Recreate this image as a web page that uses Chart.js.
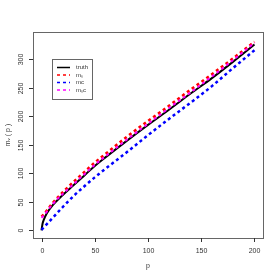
<!DOCTYPE html>
<html>
<head>
<meta charset="utf-8">
<script src="https://cdn.jsdelivr.net/npm/chart.js@4"></script>
<style>
  html, body { margin: 0; padding: 0; background: #fff; }
  #wrap { width: 280px; height: 280px; }
</style>
</head>
<body>
<div id="wrap"><canvas id="myChart" width="280" height="280"></canvas></div>
<script>
// values
const p = [0, 1, 2, 5, 10, 20, 30, 40, 50, 60, 80, 100, 120, 140, 160, 180, 200]
const truth = [0, 12, 18, 30, 43, 62, 79, 96, 113, 128, 157, 185, 212, 240, 267, 296, 326]
const mS = [24, 26, 28, 35, 47, 67, 85, 102, 119, 134, 164, 192, 219, 247, 274, 302, 331]
const mC = [1, 3, 5, 11, 21, 41, 60, 77, 93, 108, 137, 167, 196, 224, 253, 285, 316]
const mSC = [22, 24, 26, 33, 45, 64, 81, 98, 115, 130, 159, 187, 215, 242, 270, 299, 329]
const xTicks = [0, 50, 100, 150, 200]
const yTicks = [0, 50, 100, 150, 200, 250, 300]
const labels = ['truth', 'm\u209B', 'm\u1D04', 'm\u209B\u1D04']

const FONT = '"Liberation Sans", Arial, sans-serif'
const pts = arr => arr.map((v, i) => ({ x: p[i], y: v }))

const rPlot = {
    id: 'rPlot',
    afterDraw(chart) {
        const ctx = chart.ctx
        const a = chart.chartArea
        const xs = chart.scales.x
        const ys = chart.scales.y
        ctx.save()
        // box
        ctx.strokeStyle = '#666'
        ctx.lineWidth = 1
        ctx.strokeRect(a.left + 0.5, a.top + 0.5, a.right - a.left, a.bottom - a.top)
        ctx.fillStyle = '#333'
        ctx.strokeStyle = '#333'
        ctx.font = '7px ' + FONT
        // x axis
        ctx.textAlign = 'center'
        ctx.textBaseline = 'middle'
        xTicks.forEach(t => {
            const x = Math.round(xs.getPixelForValue(t)) + 0.5
            ctx.beginPath()
            ctx.moveTo(x, a.bottom)
            ctx.lineTo(x, a.bottom + 4)
            ctx.stroke()
            ctx.fillText(String(t), x, a.bottom + 13)
        })
        // y axis
        yTicks.forEach(t => {
            const y = Math.round(ys.getPixelForValue(t)) + 0.5
            ctx.beginPath()
            ctx.moveTo(a.left, y)
            ctx.lineTo(a.left - 4, y)
            ctx.stroke()
            ctx.save()
            ctx.translate(a.left - 12, y)
            ctx.rotate(-Math.PI / 2)
            ctx.fillText(String(t), 0, 0)
            ctx.restore()
        })
        // titles
        ctx.fillText('p', (a.left + a.right) / 2, a.bottom + 28)
        ctx.save()
        ctx.translate(8, (a.top + a.bottom) / 2)
        ctx.rotate(-Math.PI / 2)
        ctx.fillText('m\u1D65 ( p )', 0, 0)
        ctx.restore()

        // legend
        const lx = 52, ly = 59, lw = 40, lh = 40
        ctx.fillStyle = '#fff'
        ctx.fillRect(lx, ly, lw, lh)
        ctx.strokeStyle = '#666'
        ctx.strokeRect(lx + 0.5, ly + 0.5, lw, lh)
        ctx.font = '6px ' + FONT
        ctx.textAlign = 'left'
        chart.data.datasets.forEach((ds, i) => {
            const y = ly + 8.5 + i * 7.5
            ctx.strokeStyle = ds.borderColor
            ctx.lineWidth = 1.5
            ctx.setLineDash(ds.borderDash || [])
            ctx.beginPath()
            ctx.moveTo(lx + 5, y)
            ctx.lineTo(lx + 18, y)
            ctx.stroke()
            ctx.setLineDash([])
            ctx.fillStyle = '#333'
            ctx.fillText(ds.label, lx + 24, y)
        })
        ctx.restore()
    }
}

const config = {
    type: 'line',
    data: {
        datasets: [
            { label: labels[0], data: pts(truth), borderColor: '#000000', borderWidth: 2, order: 4 },
            { label: labels[1], data: pts(mS), borderColor: '#ff0000', borderWidth: 2.5, borderDash: [3, 3], order: 2 },
            { label: labels[2], data: pts(mC), borderColor: '#0000ff', borderWidth: 2.5, borderDash: [3, 3], order: 3 },
            { label: labels[3], data: pts(mSC), borderColor: '#ff00ff', borderWidth: 2, borderDash: [3, 3], order: 1 }
        ]
    },
    options: {
        responsive: false,
        animation: false,
        layout: { padding: { left: 33, right: 17, top: 32, bottom: 42 } },
        elements: {
            point: { radius: 0 },
            line: { cubicInterpolationMode: 'monotone', fill: false }
        },
        plugins: { legend: { display: false }, tooltip: { enabled: false } },
        scales: {
            x: { type: 'linear', min: -8, max: 208, display: false },
            y: { type: 'linear', min: -13.4, max: 348, display: false }
        }
    },
    plugins: [rPlot]
}

new Chart(document.getElementById('myChart'), config)
</script>
</body>
</html>
